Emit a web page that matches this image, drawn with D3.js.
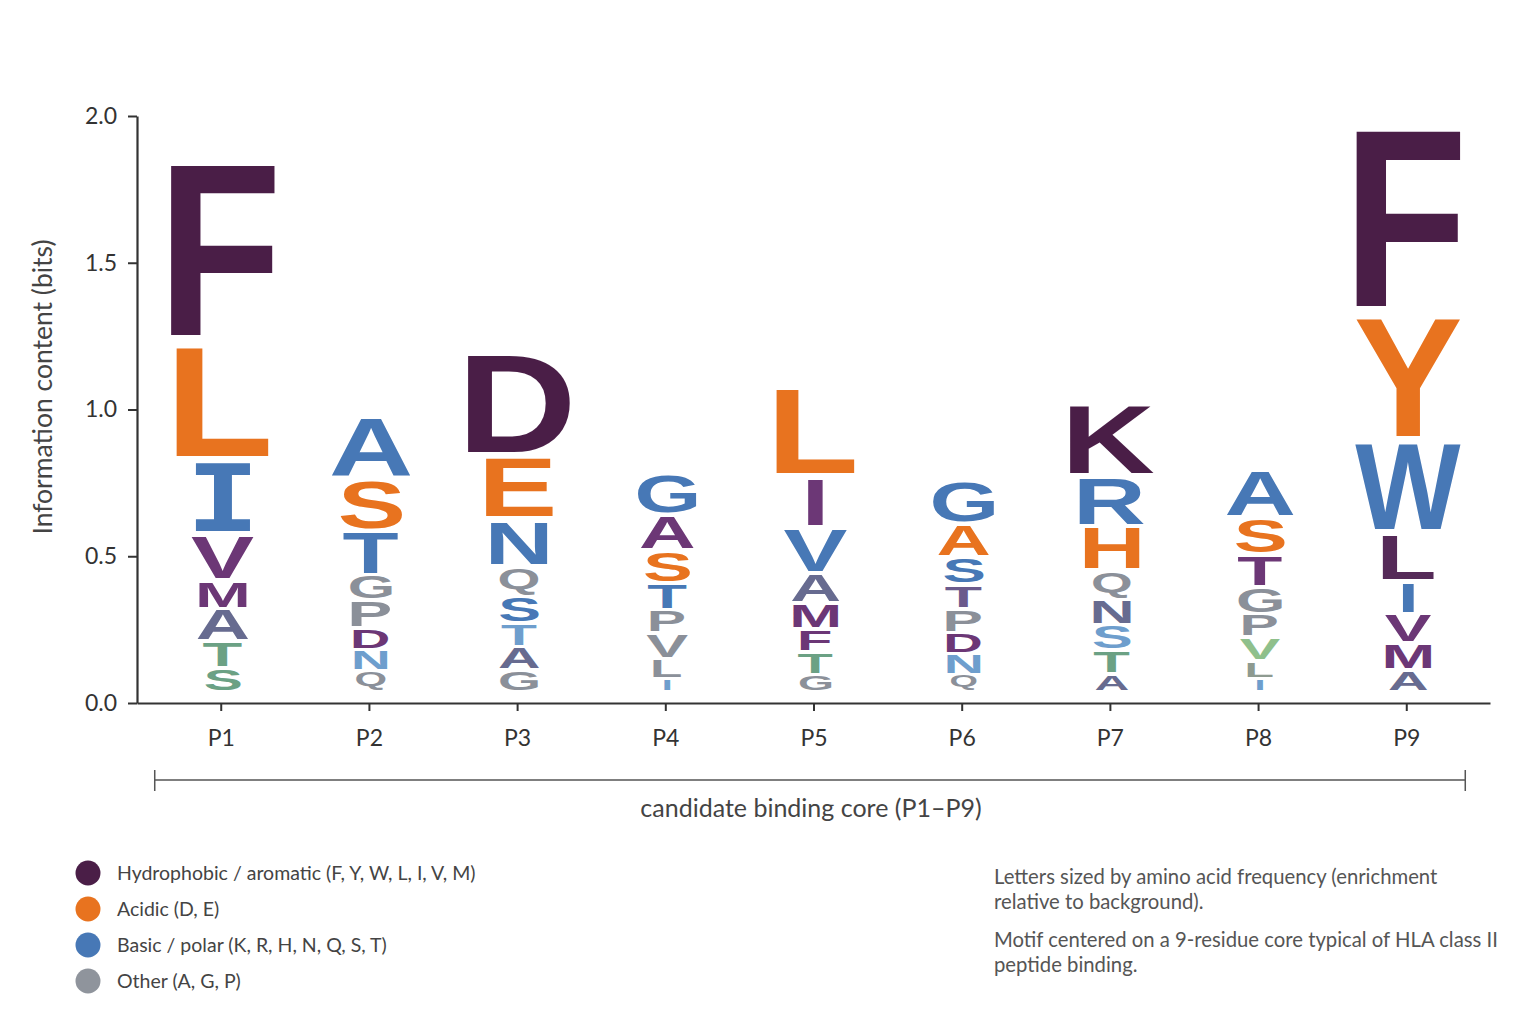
<!DOCTYPE html>
<html>
<head>
<meta charset="utf-8">
<script src="https://cdn.jsdelivr.net/npm/d3@7"></script>
<style>
  html, body { margin: 0; padding: 0; background: #fff; }
  svg { display: block; }
</style>
</head>
<body>
<svg id="chart"></svg>
<script>
// positions of the binding core
let positions = ["P1", "P2", "P3", "P4", "P5", "P6", "P7", "P8", "P9"];

// letters per position, bottom of the stack first
let letters = [
  ["S", "T", "A", "M", "V", "I", "L", "F"],
  ["Q", "N", "D", "P", "G", "T", "S", "A"],
  ["G", "A", "T", "S", "Q", "N", "E", "D"],
  ["I", "L", "V", "P", "T", "S", "A", "G"],
  ["G", "T", "F", "M", "A", "V", "I", "L"],
  ["Q", "N", "D", "P", "T", "S", "A", "G"],
  ["A", "T", "S", "N", "Q", "H", "R", "K"],
  ["I", "L", "V", "P", "G", "T", "S", "A"],
  ["A", "M", "V", "I", "L", "W", "Y", "F"]
];

// letter heights in bits, same order as letters
let bits = [
  [0.080, 0.091, 0.112, 0.095, 0.153, 0.250, 0.394, 0.622],
  [0.070, 0.072, 0.072, 0.096, 0.085, 0.150, 0.179, 0.213],
  [0.074, 0.079, 0.079, 0.091, 0.103, 0.158, 0.213, 0.353],
  [0.046, 0.067, 0.085, 0.079, 0.091, 0.113, 0.119, 0.139],
  [0.058, 0.077, 0.077, 0.088, 0.102, 0.156, 0.170, 0.307],
  [0.058, 0.073, 0.070, 0.082, 0.083, 0.093, 0.112, 0.148],
  [0.060, 0.081, 0.085, 0.086, 0.099, 0.151, 0.168, 0.248],
  [0.046, 0.059, 0.081, 0.079, 0.090, 0.109, 0.127, 0.167],
  [0.074, 0.090, 0.099, 0.110, 0.163, 0.312, 0.423, 0.641]
];

let yTicks = [0, 0.5, 1.0, 1.5, 2.0];

let legendLabels = [
  "Hydrophobic / aromatic (F, Y, W, L, I, V, M)",
  "Acidic (D, E)",
  "Basic / polar (K, R, H, N, Q, S, T)",
  "Other (A, G, P)"
];

let notes = [
  ["Letters sized by amino acid frequency (enrichment", "relative to background)."],
  ["Motif centered on a 9-residue core typical of HLA class II", "peptide binding."]
];

// ---- styles ----
let palette = {
  plum: "#4a1e47",
  plum2: "#552a58",
  orange: "#e8731f",
  blue: "#4778b6",
  purple: "#6c3776",
  slate: "#676b90",
  slatepurple: "#6a5a8c",
  green: "#6ba184",
  lightgreen: "#8fc08c",
  graygreen: "#8e9a90",
  gray: "#8b9099",
  lightblue: "#6e9ecd"
};

let letterColors = [
  ["green", "green", "slate", "purple", "purple", "blue", "orange", "plum"],
  ["gray", "lightblue", "purple", "gray", "gray", "blue", "orange", "blue"],
  ["gray", "slate", "lightblue", "blue", "gray", "blue", "orange", "plum"],
  ["lightblue", "gray", "gray", "gray", "blue", "orange", "purple", "blue"],
  ["gray", "green", "purple", "purple", "slate", "blue", "purple", "orange"],
  ["gray", "lightblue", "purple", "gray", "slatepurple", "blue", "orange", "blue"],
  ["slate", "green", "lightblue", "slate", "gray", "orange", "blue", "plum"],
  ["lightblue", "graygreen", "lightgreen", "gray", "gray", "purple", "orange", "blue"],
  ["slate", "purple", "purple", "blue", "plum2", "blue", "orange", "plum"]
];

let legendColors = ["#4a1e47", "#e8731f", "#4778b6", "#8f949c"];

let w = 1536;
let h = 1024;
let textFont = "Lato, 'Noto Sans', sans-serif";
let letterFont = "'Liberation Sans', Arial, sans-serif";
let monoFont = "'DejaVu Sans Mono', monospace";

let svg = d3.select("#chart").attr("width", w).attr("height", h);

let xScale = d3.scalePoint().domain(positions).range([137, 1490]).padding(0.565);
let yScale = d3.scaleLinear().domain([0, 2]).range([703, 116]);

let drawAxes = () => {
  let yAxis = d3.axisLeft(yScale)
    .tickValues(yTicks)
    .tickFormat(d3.format(".1f"))
    .tickSize(9)
    .tickPadding(11)
    .tickSizeOuter(0);
  let xAxis = d3.axisBottom(xScale).tickSize(8).tickPadding(19).tickSizeOuter(0);

  let gy = svg.append("g").attr("transform", "translate(137,0)").call(yAxis);
  let gx = svg.append("g").attr("transform", "translate(0,703)").call(xAxis);

  [gx, gy].forEach((g) => {
    g.select(".domain").attr("stroke", "#333").attr("stroke-width", 2.2);
    g.selectAll(".tick line").attr("stroke", "#333").attr("stroke-width", 2);
    g.selectAll(".tick text")
      .attr("fill", "#333")
      .style("font-family", textFont)
      .style("font-size", "23px");
  });

  svg.append("text")
    .attr("transform", "translate(52,387) rotate(-90)")
    .attr("text-anchor", "middle")
    .attr("fill", "#444")
    .style("font-family", textFont)
    .style("font-size", "26.5px")
    .text("Information content (bits)");

  // bracket under the core
  let bx0 = xScale("P1") - 66;
  let bx1 = xScale("P9") + 59;
  let by = 780;
  svg.append("path")
    .attr("d", `M${bx0},${by - 10}V${by + 11}M${bx0},${by}H${bx1}M${bx1},${by - 10}V${by + 11}`)
    .attr("stroke", "#555")
    .attr("stroke-width", 1.5)
    .attr("fill", "none");
  svg.append("text")
    .attr("x", (bx0 + bx1) / 2 + 1)
    .attr("y", 817)
    .attr("text-anchor", "middle")
    .attr("fill", "#444")
    .style("font-family", textFont)
    .style("font-size", "25px")
    .text("candidate binding core (P1\u2013P9)");
};

// measure ink boxes of glyphs so they can be stretched into their slots
let canvas = document.createElement("canvas");
let ctx = canvas.getContext("2d");
let inkBox = (ch, font) => {
  ctx.font = `bold 100px ${font}`;
  let m = ctx.measureText(ch);
  return {
    left: m.actualBoundingBoxLeft,
    w: m.actualBoundingBoxLeft + m.actualBoundingBoxRight,
    asc: m.actualBoundingBoxAscent,
    h: m.actualBoundingBoxAscent + m.actualBoundingBoxDescent
  };
};

let drawLogo = () => {
  let baseLift = 10;
  let maxW = 106;
  let g = svg.append("g");
  positions.forEach((pos, pi) => {
    let cx = xScale(pos);
    let cum = 0;
    letters[pi].forEach((ch, li) => {
      let v = bits[pi][li];
      let yBottom = yScale(cum) - baseLift;
      let yTop = yScale(cum + v) - baseLift;
      cum += v;
      let slot = yBottom - yTop;
      let gap = 2 + 0.05 * slot;
      let gh = slot - gap;
      let font = ch === "I" && pos === "P1" ? monoFont : letterFont;
      let box = inkBox(ch, font);
      let k = 1.4 * Math.pow(60 / gh, 0.35);
      let gw = Math.min(maxW, (box.w / box.h) * gh * k);
      let sx = gw / box.w;
      let sy = gh / box.h;
      let x0 = cx - gw / 2 + 2;
      g.append("text")
        .attr("transform", `translate(${x0 + sx * box.left},${yTop + sy * box.asc}) scale(${sx},${sy})`)
        .attr("fill", palette[letterColors[pi][li]])
        .style("font-family", font)
        .style("font-weight", "bold")
        .style("font-size", "100px")
        .text(ch);
    });
  });
};

let drawLegend = () => {
  let g = svg.append("g");
  legendLabels.forEach((label, i) => {
    let cy = 873 + i * 36;
    g.append("circle").attr("cx", 88).attr("cy", cy).attr("r", 12.5).attr("fill", legendColors[i]);
    g.append("text")
      .attr("x", 117)
      .attr("y", cy + 7)
      .attr("fill", "#444")
      .style("font-family", textFont)
      .style("font-size", "19.5px")
      .text(label);
  });

  let ng = svg.append("g");
  let yy = [884, 909, 947, 972];
  let n = 0;
  notes.forEach((para) => {
    para.forEach((line) => {
      ng.append("text")
        .attr("x", 994)
        .attr("y", yy[n++])
        .attr("fill", "#555")
        .style("font-family", textFont)
        .style("font-size", "20.3px")
        .text(line);
    });
  });
};

drawAxes();
drawLogo();
drawLegend();
</script>
</body>
</html>
